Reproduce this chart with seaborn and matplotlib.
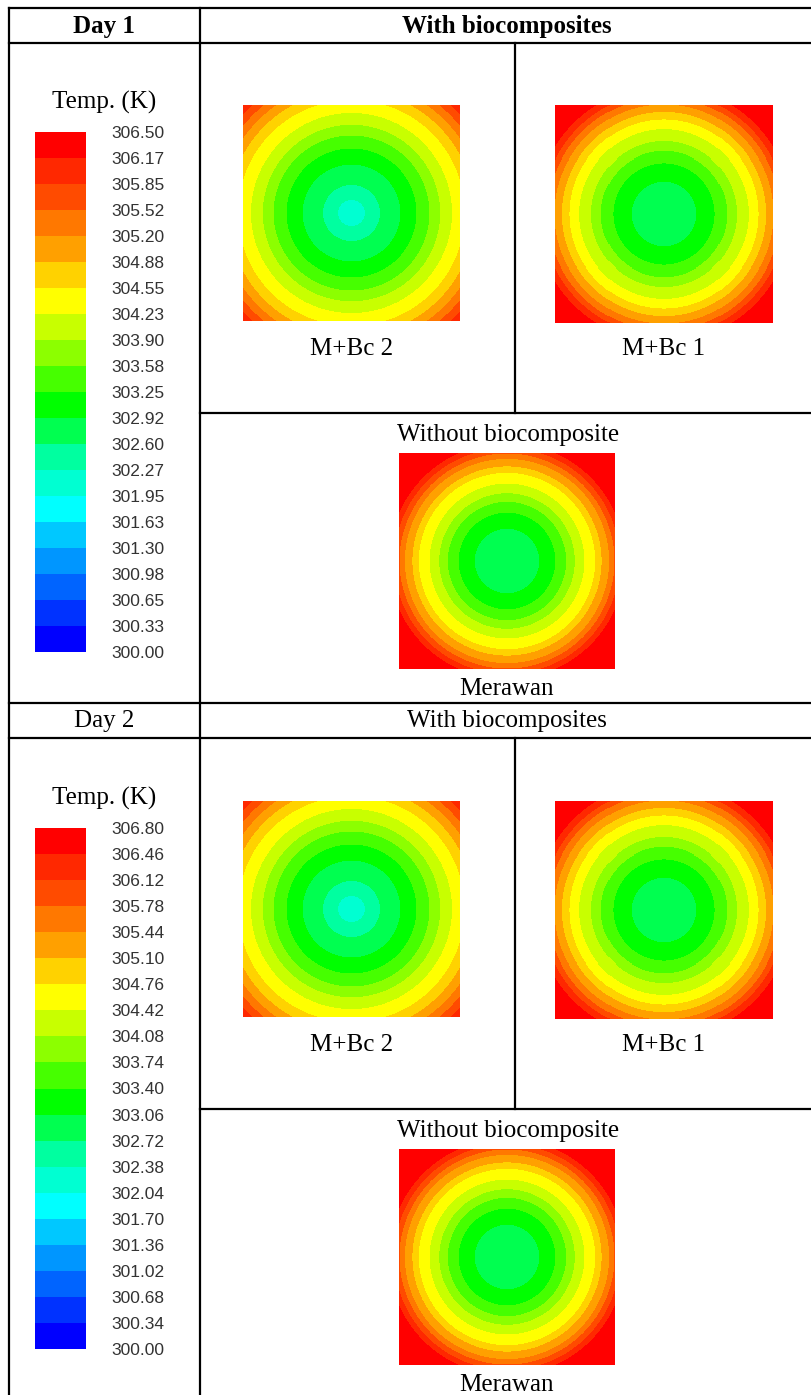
import numpy as np
import matplotlib.pyplot as plt
from matplotlib.colors import ListedColormap, BoundaryNorm
import seaborn as sns

W, H = 811, 1395

# colour bar labels (K), top to bottom
day1_levels = [306.50, 306.17, 305.85, 305.52, 305.20, 304.88, 304.55, 304.23, 303.90, 303.58,
               303.25, 302.92, 302.60, 302.27, 301.95, 301.63, 301.30, 300.98, 300.65, 300.33, 300.00]
day2_levels = [306.80, 306.46, 306.12, 305.78, 305.44, 305.10, 304.76, 304.42, 304.08, 303.74,
               303.40, 303.06, 302.72, 302.38, 302.04, 301.70, 301.36, 301.02, 300.68, 300.34, 300.00]

# 20 band colours, lowest (blue) to highest (red)
band_colors = ['#0000ff', '#0032ff', '#0064ff', '#0096ff', '#00c8ff', '#00ffff', '#00ffd2', '#00ffa0',
               '#00ff50', '#00ff00', '#46ff00', '#8cff00', '#c8ff00', '#ffff00', '#ffd200', '#ffa000',
               '#ff7800', '#ff4b00', '#ff2800', '#ff0000']

# contour panels: band index at the centre and outer radius of each ring
# (radius as a fraction of the half side of the square)
mbc2_d1_centre = 6
mbc2_d1_rings = [0.12, 0.26, 0.45, 0.60, 0.72, 0.82, 0.93, 1.05, 1.14, 1.22, 1.29, 1.36]
mbc1_d1_centre = 8
mbc1_d1_rings = [0.30, 0.47, 0.58, 0.67, 0.78, 0.87, 0.94, 1.01, 1.07, 1.12, 1.18]
mer_d1_centre = 8
mer_d1_rings = [0.30, 0.45, 0.55, 0.63, 0.72, 0.82, 0.88, 0.95, 1.00, 1.05, 1.10]

mbc2_d2_centre = 6
mbc2_d2_rings = [0.12, 0.26, 0.45, 0.60, 0.72, 0.82, 0.93, 1.05, 1.14, 1.22, 1.29, 1.36]
mbc1_d2_centre = 8
mbc1_d2_rings = [0.30, 0.47, 0.58, 0.67, 0.78, 0.87, 0.94, 1.01, 1.07, 1.12, 1.18]
mer_d2_centre = 8
mer_d2_rings = [0.30, 0.45, 0.55, 0.63, 0.72, 0.82, 0.88, 0.95, 1.00, 1.05, 1.10]

SERIF = 'Liberation Serif'
SANS = 'Liberation Sans'


def rect(x0, y0, x1, y1):
    return [x0 / W, 1 - y1 / H, (x1 - x0) / W, (y1 - y0) / H]


def band_mids(levels):
    lv = np.sort(np.array(levels))
    return lv, (lv[:-1] + lv[1:]) / 2


def ring_field(levels, centre, rings, n=216):
    lv, mid = band_mids(levels)
    c = np.linspace(-1, 1, n)
    xx, yy = np.meshgrid(c, c)
    r = np.hypot(xx, yy)
    band = np.clip(centre + np.digitize(r, rings), 0, len(mid) - 1)
    return mid[band]


def draw_panel(fig, box, levels, centre, rings):
    lv, _ = band_mids(levels)
    cmap = ListedColormap(band_colors)
    norm = BoundaryNorm(lv, cmap.N)
    ax = fig.add_axes(rect(*box))
    sns.heatmap(ring_field(levels, centre, rings), ax=ax, cmap=cmap, norm=norm,
                cbar=False, xticklabels=False, yticklabels=False)
    ax.set_xticks([])
    ax.set_yticks([])


def draw_colorbar(fig, box, levels):
    lv, mid = band_mids(levels)
    cmap = ListedColormap(band_colors)
    norm = BoundaryNorm(lv, cmap.N)
    ax = fig.add_axes(rect(*box))
    col = mid[::-1].reshape(-1, 1)
    sns.heatmap(col, ax=ax, cmap=cmap, norm=norm, cbar=False,
                xticklabels=False, yticklabels=False)
    ax.set_xticks([])
    ax.set_yticks(np.arange(len(levels)))
    ax.set_yticklabels([f"{v:.2f}" for v in levels])
    ax.yaxis.tick_right()
    ax.tick_params(axis='y', length=0, pad=18, labelsize=12.5, labelcolor='#333333',
                   labelright=True, labelleft=False, rotation=0)
    for lbl in ax.get_yticklabels():
        lbl.set_family(SANS)


def main():
    sns.set_style('white')
    plt.rcParams['font.family'] = [SERIF, 'DejaVu Serif']
    plt.rcParams['text.color'] = 'black'

    fig = plt.figure(figsize=(W / 100, H / 100), dpi=100)
    bg = fig.add_axes([0, 0, 1, 1])
    bg.set_xlim(0, W)
    bg.set_ylim(H, 0)
    bg.axis('off')

    lw = 1.6
    def hline(y, x0, x1):
        bg.plot([x0, x1], [y, y], color='black', lw=lw, solid_capstyle='projecting')
    def vline(x, y0, y1):
        bg.plot([x, x], [y0, y1], color='black', lw=lw, solid_capstyle='projecting')

    # table grid
    hline(8, 9, W)
    vline(9, 8, H)
    vline(200, 8, H)
    hline(43, 9, W)
    vline(515, 43, 413)
    hline(413, 200, W)
    hline(703, 9, W)
    hline(738, 9, W)
    vline(515, 738, 1109)
    hline(1109, 200, W)

    fs = 18
    bg.text(104, 26, 'Day 1', ha='center', va='center', fontsize=fs, fontweight='bold')
    bg.text(507, 26, 'With biocomposites', ha='center', va='center', fontsize=fs, fontweight='bold')
    bg.text(104, 721, 'Day 2', ha='center', va='center', fontsize=fs)
    bg.text(507, 721, 'With biocomposites', ha='center', va='center', fontsize=fs)

    days = [
        (0, day1_levels, (mbc2_d1_centre, mbc2_d1_rings), (mbc1_d1_centre, mbc1_d1_rings),
         (mer_d1_centre, mer_d1_rings), (132, 652)),
        (696, day2_levels, (mbc2_d2_centre, mbc2_d2_rings), (mbc1_d2_centre, mbc1_d2_rings),
         (mer_d2_centre, mer_d2_rings), (828, 1349)),
    ]
    for off, levels, mbc2, mbc1, mer, (cb0, cb1) in days:
        bg.text(104, 102 + off, 'Temp. (K)', ha='center', va='center', fontsize=fs)
        draw_colorbar(fig, (35, cb0, 86, cb1), levels)

        draw_panel(fig, (243, 105 + off, 460, 321 + off), levels, *mbc2)
        draw_panel(fig, (555, 105 + off, 773, 323 + off), levels, *mbc1)
        draw_panel(fig, (399, 453 + off, 615, 669 + off), levels, *mer)

        bg.text(352, 349 + off, 'M+Bc 2', ha='center', va='center', fontsize=fs)
        bg.text(664, 349 + off, 'M+Bc 1', ha='center', va='center', fontsize=fs)
        bg.text(508, 435 + off, 'Without biocomposite', ha='center', va='center', fontsize=fs)
        bg.text(506, 689 + off, 'Merawan', ha='center', va='center', fontsize=fs)

    fig.savefig('out.png', dpi=100)
    plt.close(fig)


if __name__ == '__main__':
    main()
